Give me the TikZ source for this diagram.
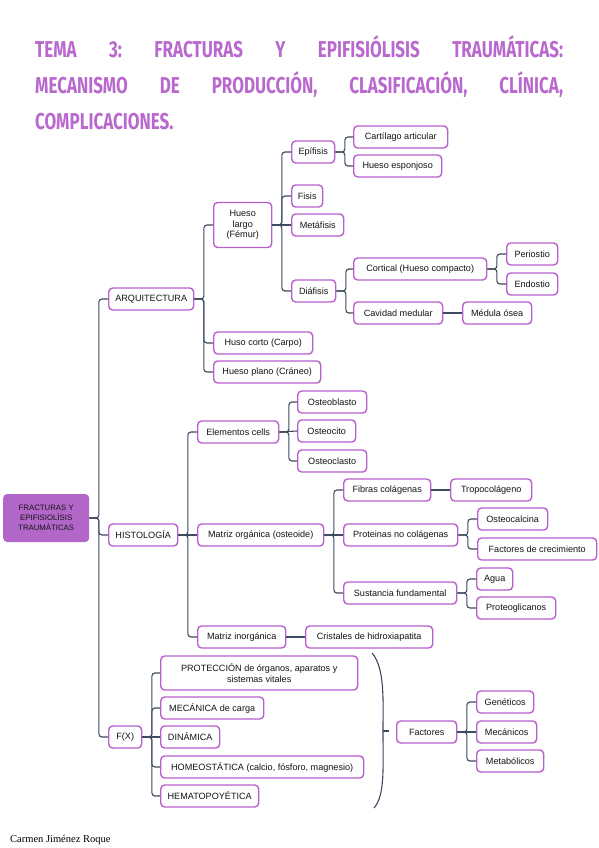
\documentclass[tikz,border=0pt]{standalone}
\usepackage{fontspec}
\setmainfont{Liberation Sans}
\newfontfamily\titlefont{Fira Sans}
\newfontfamily\authorfont{Liberation Serif}
\usetikzlibrary{positioning,calc}
\definecolor{boxline}{RGB}{185,95,205}
\definecolor{rootfill}{RGB}{178,102,200}
\definecolor{linkcol}{RGB}{60,75,95}
\definecolor{titlecol}{RGB}{185,105,205}
\definecolor{boxtext}{RGB}{20,20,20}
\frenchspacing

\begin{document}
\begin{tikzpicture}[
    x=1pt, y=-1pt,
    box/.style={
      rectangle, draw=boxline, line width=1.4pt, rounded corners=4pt,
      fill=white, anchor=west, minimum height=22pt, inner xsep=4pt,
      text=boxtext, font=\fontsize{9.1}{10.5}\selectfont, align=center
    },
    rootbox/.style={
      rectangle, fill=rootfill, rounded corners=4pt, anchor=west,
      minimum width=86pt, minimum height=48pt, inner sep=2pt,
      text=boxtext, font=\fontsize{7.8}{10}\selectfont, align=center
    },
    title/.style={
      anchor=base west, inner sep=0pt, text=titlecol,
      font=\titlefont\bfseries\fontsize{17}{20}\selectfont
    },
    link/.style={draw=linkcol, line width=1.1pt, rounded corners=3pt}
  ]
  \useasboundingbox (0,0) rectangle (599,848);

  \node[title] (t1) at (35,58) {\scalebox{1}[1.35]{\makebox[528pt][s]{TEMA 3: FRACTURAS Y EPIFISIÓLISIS TRAUMÁTICAS:}}};
  \node[title] (t2) at (35,94) {\scalebox{1}[1.35]{\makebox[528pt][s]{MECANISMO DE PRODUCCIÓN, CLASIFICACIÓN, CLÍNICA,}}};
  \node[title] (t3) at (35,130) {\scalebox{1}[1.35]{COMPLICACIONES.}};

  \node[rootbox] (root) at (3,518) {FRACTURAS Y\\EPIFISIOLÍSIS\\TRAUMÁTICAS};

  \node[box, minimum width=85] (arq) at (108,299) {ARQUITECTURA};
  \node[box, minimum width=58, minimum height=45] (largo) at (213,225) {Hueso\\largo\\(Fémur)};
  \node[box, minimum width=99] (corto) at (213,343) {Huso corto (Carpo)};
  \node[box, minimum width=107] (plano) at (213,372) {Hueso plano (Cráneo)};
  \node[box, minimum width=43] (epi) at (291,152) {Epífisis};
  \node[box, minimum width=31] (fisis) at (291,196) {Fisis};
  \node[box, minimum width=52] (meta) at (291,225) {Metáfisis};
  \node[box, minimum width=44] (dia) at (291,291) {Diáfisis};
  \node[box, minimum width=94] (cart) at (353,137) {Cartílago articular};
  \node[box, minimum width=88] (esp) at (353,166) {Hueso esponjoso};
  \node[box, minimum width=133] (cort) at (353,269) {Cortical (Hueso compacto)};
  \node[box, minimum width=89] (cav) at (353,313) {Cavidad medular};
  \node[box, minimum width=69] (medula) at (462,313) {Médula ósea};
  \node[box, minimum width=51] (peri) at (506,254) {Periostio};
  \node[box, minimum width=51] (endo) at (506,284) {Endostio};

  \node[box, minimum width=69] (hist) at (108,535) {HISTOLOGÍA};
  \node[box, minimum width=81] (elem) at (197,432) {Elementos cells};
  \node[box, minimum width=126] (morg) at (197,535) {Matriz orgánica (osteoide)};
  \node[box, minimum width=88] (minorg) at (197,637) {Matriz inorgánica};
  \node[box, minimum width=127] (crist) at (305,637) {Cristales de hidroxiapatita};
  \node[box, minimum width=69] (oblasto) at (297,402) {Osteoblasto};
  \node[box, minimum width=58] (ocito) at (297,431) {Osteocito};
  \node[box, minimum width=69] (oclasto) at (297,461) {Osteoclasto};
  \node[box, minimum width=87] (fibras) at (343,490) {Fibras colágenas};
  \node[box, minimum width=81] (tropo) at (450,490) {Tropocolágeno};
  \node[box, minimum width=114] (prot) at (343,535) {Proteinas no colágenas};
  \node[box, minimum width=113] (sust) at (343,593) {Sustancia fundamental};
  \node[box, minimum width=70] (ocalc) at (477,519) {Osteocalcina};
  \node[box, minimum width=119] (factc) at (477,549) {Factores de crecimiento};
  \node[box, minimum width=36] (agua) at (476,579) {Agua};
  \node[box, minimum width=79] (pglic) at (476,608) {Proteoglicanos};

  \node[box, minimum width=33] (fx) at (108,737) {F(X)};
  \node[box, minimum width=197, minimum height=34] (protec) at (160,673) {PROTECCIÓN de órganos, aparatos y\\sistemas vitales};
  \node[box, minimum width=103] (mec) at (160,708) {MECÁNICA de carga};
  \node[box, minimum width=59] (din) at (160,737) {DINÁMICA};
  \node[box, minimum width=203] (homeo) at (160,767) {HOMEOSTÁTICA (calcio, fósforo, magnesio)};
  \node[box, minimum width=98] (hemato) at (160,796) {HEMATOPOYÉTICA};
  \node[box, minimum width=60] (fact) at (396,732) {Factores};
  \node[box, minimum width=57] (gen) at (476,702) {Genéticos};
  \node[box, minimum width=60] (mecs) at (476,732) {Mecánicos};
  \node[box, minimum width=67] (metab) at (476,761) {Metabólicos};

  \foreach \p/\kids in {root/{arq,hist,fx}, arq/{largo,corto,plano},
      largo/{epi,fisis,dia}, epi/{cart,esp}, dia/{cort,cav},
      cort/{peri,endo}, hist/{elem,minorg},
      elem/{oblasto,oclasto}, morg/{fibras,sust},
      prot/{ocalc,factc}, sust/{agua,pglic},
      fx/{protec,mec,homeo,hemato}, fact/{gen,metab}}
    \foreach \c in \kids
      \draw[link] (\p.east) -- ++(9.5,0) |- (\c.west);
  \foreach \p/\c in {largo/meta, cav/medula, hist/morg, elem/ocito,
      morg/prot, fibras/tropo, minorg/crist, fx/din, fact/mecs}
    \draw[link] (\p.east) -- (\c.west);

  \coordinate (brtop) at (372,653);
  \coordinate (brbot) at (374,808);
  \coordinate (brtip) at (389,731);
  \draw[draw=linkcol, line width=1.1pt] (brtop) .. controls (385,668) and (383,700) .. (383,731)
    .. controls (383,770) and (385,795) .. (brbot);
  \draw[draw=linkcol, line width=1.1pt] (383,731) -- (brtip);

  \node[anchor=base west, inner sep=0pt, font=\authorfont\fontsize{10.5}{12}\selectfont] (author) at (10,842) {Carmen Jiménez Roque};
\end{tikzpicture}
\end{document}
